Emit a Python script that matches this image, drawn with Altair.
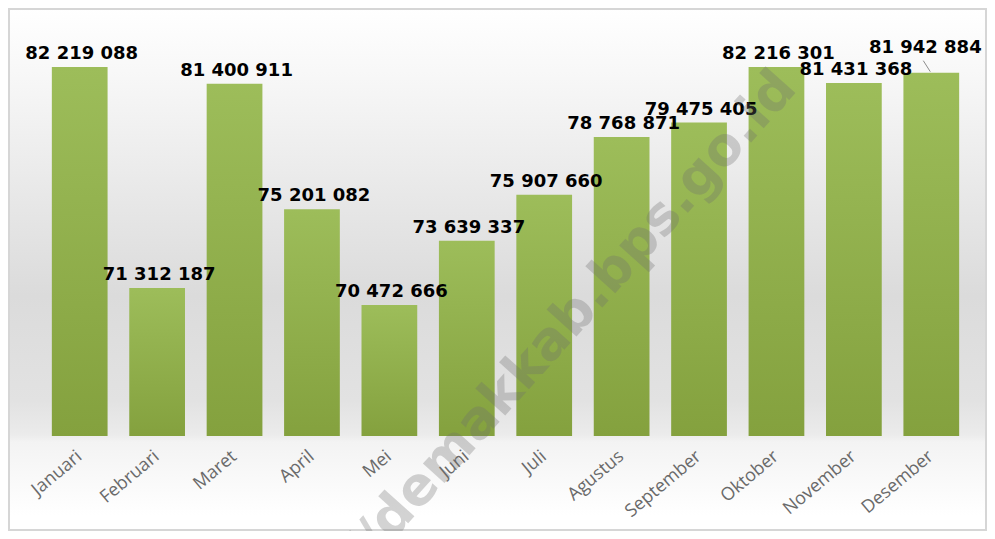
import altair as alt
import pandas as pd

months = ["Januari", "Februari", "Maret", "April", "Mei", "Juni", "Juli",
          "Agustus", "September", "Oktober", "November", "Desember"]
values = [82219088, 71312187, 81400911, 75201082, 70472666, 73639337,
          75907660, 78768871, 79475405, 82216301, 81431368, 81942884]
labels = ["82 219 088", "71 312 187", "81 400 911", "75 201 082", "70 472 666",
          "73 639 337", "75 907 660", "78 768 871", "79 475 405", "82 216 301",
          "81 431 368", "81 942 884"]
watermark = "http://demakkab.bps.go.id"
y_min, y_max = 64000000, 84000000

df = pd.DataFrame({"month": months, "value": values, "label": labels})

W, H = 929, 405
PL, PT, PR, PB = 33, 23, 17, 95

x = alt.X("month:N", sort=months, title=None,
          scale=alt.Scale(paddingInner=0.28, paddingOuter=0.14),
          axis=alt.Axis(labelAngle=-40, labelAlign="right", labelBaseline="middle",
                        labelPadding=18, labelFont="Open Sans", labelFontSize=18,
                        labelColor="#6a6a6a", ticks=False, domain=False, grid=False,
                        zindex=2))
y = alt.Y("value:Q", title=None, axis=None,
          scale=alt.Scale(domain=[y_min, y_max], zero=False, nice=False))

bg = alt.Chart(alt.Data(values=[{}])).mark_rect(
    color=alt.Gradient(
        gradient="linear", x1=0, x2=0, y1=0, y2=1,
        stops=[alt.GradientStop(color="#ffffff", offset=0),
               alt.GradientStop(color="#f8f8f8", offset=0.12),
               alt.GradientStop(color="#dbdbdb", offset=0.55),
               alt.GradientStop(color="#e2e2e2", offset=0.75),
               alt.GradientStop(color="#ebebeb", offset=0.815),
               alt.GradientStop(color="#f3f3f3", offset=0.83),
               alt.GradientStop(color="#ffffff", offset=0.97)]),
).encode(x=alt.value(-PL), x2=alt.value(W + PR), y=alt.value(-PT), y2=alt.value(H + PB))

border = alt.Chart(alt.Data(values=[{}])).mark_rect(
    fill=None, stroke="#d6d6d6", strokeWidth=2
).encode(x=alt.value(-PL + 1), x2=alt.value(W + PR - 1),
         y=alt.value(-PT + 1), y2=alt.value(H + PB - 1))

bars = alt.Chart(df).mark_bar(
    color=alt.Gradient(
        gradient="linear", x1=0, x2=0, y1=0, y2=1,
        stops=[alt.GradientStop(color="#9dbd5a", offset=0),
               alt.GradientStop(color="#84a13e", offset=1)])
).encode(x=x, y=y, y2=alt.datum(y_min))

text_main = alt.Chart(df).transform_filter(
    alt.datum.month != "Desember"
).mark_text(
    font="DejaVu Sans", fontWeight="bold", fontSize=18, color="#000000",
    baseline="alphabetic", dy=-8, dx=2
).encode(x=alt.X("month:N", sort=months), y=alt.Y("value:Q"), text="label:N")

text_dec = alt.Chart(df).transform_filter(
    alt.datum.month == "Desember"
).mark_text(
    font="DejaVu Sans", fontWeight="bold", fontSize=18, color="#000000",
    baseline="alphabetic", dy=-20, dx=-6
).encode(x=alt.X("month:N", sort=months), y=alt.Y("value:Q"), text="label:N")

leader = alt.Chart(df).transform_filter(
    alt.datum.month == "Desember"
).mark_rule(color="#8c8c8c", strokeWidth=1,
            xOffset=-1, x2Offset=-8, yOffset=-1, y2Offset=-12
).encode(x=alt.X("month:N", sort=months), x2=alt.X2("month"),
         y=alt.Y("value:Q"), y2=alt.Y2("value"))

wm = alt.Chart(alt.Data(values=[{"t": watermark}])).mark_text(
    font="DejaVu Sans", fontWeight="bold", fontSize=53, color="#6f6f6f",
    opacity=0.3, angle=312, align="center", baseline="middle"
).encode(x=alt.value(480), y=alt.value(343), text="t:N")

chart = alt.layer(bg, border, bars, text_main, text_dec, leader, wm).properties(
    width=W, height=H,
    autosize=alt.AutoSizeParams(type="none"),
    padding={"left": PL, "top": PT, "right": PR, "bottom": PB},
).configure_view(stroke=None)

chart.save("out.html", embed_options={"renderer": "svg", "actions": False})
